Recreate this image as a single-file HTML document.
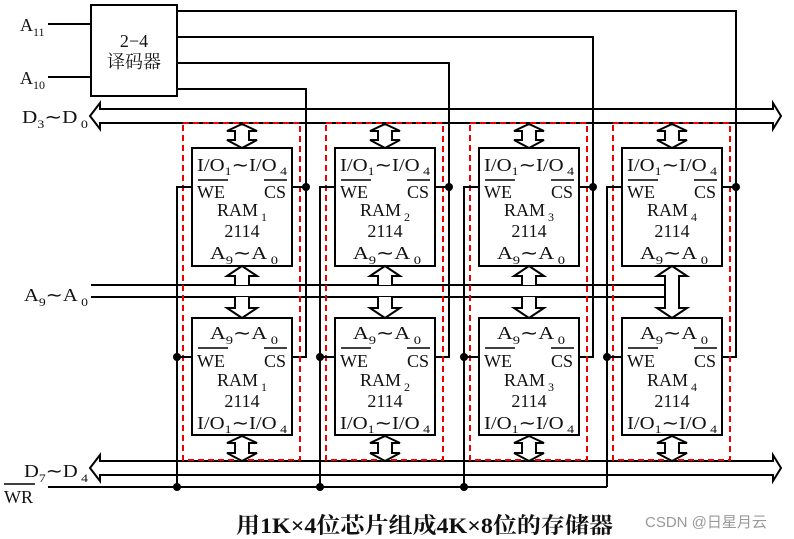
<!DOCTYPE html>
<html><head><meta charset="utf-8"><style>
html,body{margin:0;padding:0;background:#fff;width:794px;height:539px;overflow:hidden}
svg{display:block}
text{font-family:"Liberation Serif","Noto Serif CJK SC",serif;fill:#111}
.s{font-size:12px}
</style></head><body>
<svg width="794" height="539" viewBox="0 0 794 539" xmlns="http://www.w3.org/2000/svg">
<g stroke="#000" stroke-width="2" fill="none">
<rect x="91" y="5" width="86" height="91" fill="#fff"/>
<line x1="48" y1="24" x2="91" y2="24"/>
<line x1="48" y1="77" x2="91" y2="77"/>
<polyline points="177,11 736,11 736,357 722,357"/>
<polyline points="177,37 593,37 593,357 579,357"/>
<polyline points="177,63 449,63 449,357 435,357"/>
<polyline points="177,89 306,89 306,357 292,357"/>
<polygon points="90,116 100,103 100,109 773,109 773,103 781,116 773,129 773,123 100,123 100,129" fill="#fff"/>
<polygon points="90,468 100,455 100,461 773,461 773,455 781,468 773,481 773,475 100,475 100,481" fill="#fff"/>
<line x1="306" y1="105" x2="306" y2="127"/><line x1="449" y1="105" x2="449" y2="127"/>
<line x1="593" y1="105" x2="593" y2="127"/><line x1="736" y1="105" x2="736" y2="127"/>
<line x1="91" y1="285" x2="665" y2="285"/>
<line x1="91" y1="297" x2="665" y2="297"/>
<line x1="48" y1="487" x2="607" y2="487"/>
<line x1="4" y1="484" x2="35" y2="484" stroke-width="1.5"/>
</g>
<g fill="#000">
<circle cx="177" cy="487" r="4"/><circle cx="320" cy="487" r="4"/><circle cx="464" cy="487" r="4"/>
</g>
<text x="134" y="47" font-size="18" text-anchor="middle">2−4</text>
<text x="134" y="68" font-size="18" text-anchor="middle">译码器</text>
<text x="20" y="31" font-size="18">A<tspan class="s" dy="5">11</tspan></text>
<text x="20" y="84" font-size="18">A<tspan class="s" dy="5">10</tspan></text>
<text x="22" y="123" font-size="18" textLength="66" lengthAdjust="spacingAndGlyphs">D<tspan class="s" dy="5">3</tspan><tspan dy="-5">∼D</tspan><tspan class="s" dy="5"> 0</tspan></text>
<text x="24" y="301" font-size="18" textLength="64" lengthAdjust="spacingAndGlyphs">A<tspan class="s" dy="5">9</tspan><tspan dy="-5">∼A</tspan><tspan class="s" dy="5"> 0</tspan></text>
<text x="24" y="477" font-size="18" textLength="64" lengthAdjust="spacingAndGlyphs">D<tspan class="s" dy="5">7</tspan><tspan dy="-5">∼D</tspan><tspan class="s" dy="5"> 4</tspan></text>
<text x="4" y="503" font-size="18">WR</text>

<g id="c1">
<rect x="183" y="123" width="117" height="337" fill="none" stroke="#e00" stroke-width="2" stroke-dasharray="6,4"/>
<g stroke="#000" stroke-width="2" fill="#fff">
<rect x="192" y="148" width="100" height="118"/>
<rect x="192" y="318" width="100" height="117"/>
<polygon points="242,124 257,131 249,131 249,140 257,140 242,148 227,140 235,140 235,131 227,131"/>
<polygon points="242,436 257,443 249,443 249,453 257,453 242,461 227,453 235,453 235,443 227,443"/>
<polyline points="235,285 235,276 227,276 242,266 257,276 249,276 249,285"/>
<polyline points="235,297 235,308 227,308 242,318 257,308 249,308 249,297"/>
<polyline points="192,187 177,187 177,487" fill="none"/>
<line x1="192" y1="357" x2="177" y2="357"/>
<line x1="292" y1="187" x2="306" y2="187"/>
<line x1="198" y1="180" x2="228" y2="180" stroke-width="1.5"/><line x1="264" y1="180" x2="287" y2="180" stroke-width="1.5"/>
<line x1="198" y1="348" x2="228" y2="348" stroke-width="1.5"/><line x1="264" y1="348" x2="287" y2="348" stroke-width="1.5"/>
</g>
<circle cx="306" cy="187" r="4"/><circle cx="177" cy="357" r="4"/>
<g font-size="18">
<text x="197" y="171" textLength="90" lengthAdjust="spacingAndGlyphs">I/O<tspan class="s" dy="4">1</tspan><tspan dy="-4">∼I/O</tspan><tspan class="s" dy="4"> 4</tspan></text>
<text x="197" y="198">WE</text><text x="264" y="198">CS</text>
<text x="242" y="216" text-anchor="middle">RAM<tspan class="s" dy="5"> 1</tspan></text>
<text x="242" y="237" text-anchor="middle">2114</text>
<text x="210" y="259" textLength="68" lengthAdjust="spacingAndGlyphs">A<tspan class="s" dy="5">9</tspan><tspan dy="-5">∼A</tspan><tspan class="s" dy="5"> 0</tspan></text>
<text x="210" y="339" textLength="68" lengthAdjust="spacingAndGlyphs">A<tspan class="s" dy="5">9</tspan><tspan dy="-5">∼A</tspan><tspan class="s" dy="5"> 0</tspan></text>
<text x="197" y="367">WE</text><text x="264" y="367">CS</text>
<text x="242" y="386" text-anchor="middle">RAM<tspan class="s" dy="5"> 1</tspan></text>
<text x="242" y="407" text-anchor="middle">2114</text>
<text x="197" y="429" textLength="90" lengthAdjust="spacingAndGlyphs">I/O<tspan class="s" dy="4">1</tspan><tspan dy="-4">∼I/O</tspan><tspan class="s" dy="4"> 4</tspan></text>
</g>
</g>

<g transform="translate(143,0)">
<rect x="183" y="123" width="117" height="337" fill="none" stroke="#e00" stroke-width="2" stroke-dasharray="6,4"/>
<g stroke="#000" stroke-width="2" fill="#fff">
<rect x="192" y="148" width="100" height="118"/>
<rect x="192" y="318" width="100" height="117"/>
<polygon points="242,124 257,131 249,131 249,140 257,140 242,148 227,140 235,140 235,131 227,131"/>
<polygon points="242,436 257,443 249,443 249,453 257,453 242,461 227,453 235,453 235,443 227,443"/>
<polyline points="235,285 235,276 227,276 242,266 257,276 249,276 249,285"/>
<polyline points="235,297 235,308 227,308 242,318 257,308 249,308 249,297"/>
<polyline points="192,187 177,187 177,487" fill="none"/>
<line x1="192" y1="357" x2="177" y2="357"/>
<line x1="292" y1="187" x2="306" y2="187"/>
<line x1="198" y1="180" x2="228" y2="180" stroke-width="1.5"/><line x1="264" y1="180" x2="287" y2="180" stroke-width="1.5"/>
<line x1="198" y1="348" x2="228" y2="348" stroke-width="1.5"/><line x1="264" y1="348" x2="287" y2="348" stroke-width="1.5"/>
</g>
<circle cx="306" cy="187" r="4"/><circle cx="177" cy="357" r="4"/>
<g font-size="18">
<text x="197" y="171" textLength="90" lengthAdjust="spacingAndGlyphs">I/O<tspan class="s" dy="4">1</tspan><tspan dy="-4">∼I/O</tspan><tspan class="s" dy="4"> 4</tspan></text>
<text x="197" y="198">WE</text><text x="264" y="198">CS</text>
<text x="242" y="216" text-anchor="middle">RAM<tspan class="s" dy="5"> 2</tspan></text>
<text x="242" y="237" text-anchor="middle">2114</text>
<text x="210" y="259" textLength="68" lengthAdjust="spacingAndGlyphs">A<tspan class="s" dy="5">9</tspan><tspan dy="-5">∼A</tspan><tspan class="s" dy="5"> 0</tspan></text>
<text x="210" y="339" textLength="68" lengthAdjust="spacingAndGlyphs">A<tspan class="s" dy="5">9</tspan><tspan dy="-5">∼A</tspan><tspan class="s" dy="5"> 0</tspan></text>
<text x="197" y="367">WE</text><text x="264" y="367">CS</text>
<text x="242" y="386" text-anchor="middle">RAM<tspan class="s" dy="5"> 2</tspan></text>
<text x="242" y="407" text-anchor="middle">2114</text>
<text x="197" y="429" textLength="90" lengthAdjust="spacingAndGlyphs">I/O<tspan class="s" dy="4">1</tspan><tspan dy="-4">∼I/O</tspan><tspan class="s" dy="4"> 4</tspan></text>
</g>
</g>

<g transform="translate(287,0)">
<rect x="183" y="123" width="117" height="337" fill="none" stroke="#e00" stroke-width="2" stroke-dasharray="6,4"/>
<g stroke="#000" stroke-width="2" fill="#fff">
<rect x="192" y="148" width="100" height="118"/>
<rect x="192" y="318" width="100" height="117"/>
<polygon points="242,124 257,131 249,131 249,140 257,140 242,148 227,140 235,140 235,131 227,131"/>
<polygon points="242,436 257,443 249,443 249,453 257,453 242,461 227,453 235,453 235,443 227,443"/>
<polyline points="235,285 235,276 227,276 242,266 257,276 249,276 249,285"/>
<polyline points="235,297 235,308 227,308 242,318 257,308 249,308 249,297"/>
<polyline points="192,187 177,187 177,487" fill="none"/>
<line x1="192" y1="357" x2="177" y2="357"/>
<line x1="292" y1="187" x2="306" y2="187"/>
<line x1="198" y1="180" x2="228" y2="180" stroke-width="1.5"/><line x1="264" y1="180" x2="287" y2="180" stroke-width="1.5"/>
<line x1="198" y1="348" x2="228" y2="348" stroke-width="1.5"/><line x1="264" y1="348" x2="287" y2="348" stroke-width="1.5"/>
</g>
<circle cx="306" cy="187" r="4"/><circle cx="177" cy="357" r="4"/>
<g font-size="18">
<text x="197" y="171" textLength="90" lengthAdjust="spacingAndGlyphs">I/O<tspan class="s" dy="4">1</tspan><tspan dy="-4">∼I/O</tspan><tspan class="s" dy="4"> 4</tspan></text>
<text x="197" y="198">WE</text><text x="264" y="198">CS</text>
<text x="242" y="216" text-anchor="middle">RAM<tspan class="s" dy="5"> 3</tspan></text>
<text x="242" y="237" text-anchor="middle">2114</text>
<text x="210" y="259" textLength="68" lengthAdjust="spacingAndGlyphs">A<tspan class="s" dy="5">9</tspan><tspan dy="-5">∼A</tspan><tspan class="s" dy="5"> 0</tspan></text>
<text x="210" y="339" textLength="68" lengthAdjust="spacingAndGlyphs">A<tspan class="s" dy="5">9</tspan><tspan dy="-5">∼A</tspan><tspan class="s" dy="5"> 0</tspan></text>
<text x="197" y="367">WE</text><text x="264" y="367">CS</text>
<text x="242" y="386" text-anchor="middle">RAM<tspan class="s" dy="5"> 3</tspan></text>
<text x="242" y="407" text-anchor="middle">2114</text>
<text x="197" y="429" textLength="90" lengthAdjust="spacingAndGlyphs">I/O<tspan class="s" dy="4">1</tspan><tspan dy="-4">∼I/O</tspan><tspan class="s" dy="4"> 4</tspan></text>
</g>
</g>

<g transform="translate(430,0)">
<rect x="183" y="123" width="117" height="337" fill="none" stroke="#e00" stroke-width="2" stroke-dasharray="6,4"/>
<g stroke="#000" stroke-width="2" fill="#fff">
<rect x="192" y="148" width="100" height="118"/>
<rect x="192" y="318" width="100" height="117"/>
<polygon points="242,124 257,131 249,131 249,140 257,140 242,148 227,140 235,140 235,131 227,131"/>
<polygon points="242,436 257,443 249,443 249,453 257,453 242,461 227,453 235,453 235,443 227,443"/>
<polygon points="242,266 257,276 249,276 249,308 257,308 242,318 227,308 235,308 235,276 227,276"/>
<polyline points="192,187 177,187 177,487" fill="none"/>
<line x1="192" y1="357" x2="177" y2="357"/>
<line x1="292" y1="187" x2="306" y2="187"/>
<line x1="198" y1="180" x2="228" y2="180" stroke-width="1.5"/><line x1="264" y1="180" x2="287" y2="180" stroke-width="1.5"/>
<line x1="198" y1="348" x2="228" y2="348" stroke-width="1.5"/><line x1="264" y1="348" x2="287" y2="348" stroke-width="1.5"/>
</g>
<circle cx="306" cy="187" r="4"/><circle cx="177" cy="357" r="4"/>
<g font-size="18">
<text x="197" y="171" textLength="90" lengthAdjust="spacingAndGlyphs">I/O<tspan class="s" dy="4">1</tspan><tspan dy="-4">∼I/O</tspan><tspan class="s" dy="4"> 4</tspan></text>
<text x="197" y="198">WE</text><text x="264" y="198">CS</text>
<text x="242" y="216" text-anchor="middle">RAM<tspan class="s" dy="5"> 4</tspan></text>
<text x="242" y="237" text-anchor="middle">2114</text>
<text x="210" y="259" textLength="68" lengthAdjust="spacingAndGlyphs">A<tspan class="s" dy="5">9</tspan><tspan dy="-5">∼A</tspan><tspan class="s" dy="5"> 0</tspan></text>
<text x="210" y="339" textLength="68" lengthAdjust="spacingAndGlyphs">A<tspan class="s" dy="5">9</tspan><tspan dy="-5">∼A</tspan><tspan class="s" dy="5"> 0</tspan></text>
<text x="197" y="367">WE</text><text x="264" y="367">CS</text>
<text x="242" y="386" text-anchor="middle">RAM<tspan class="s" dy="5"> 4</tspan></text>
<text x="242" y="407" text-anchor="middle">2114</text>
<text x="197" y="429" textLength="90" lengthAdjust="spacingAndGlyphs">I/O<tspan class="s" dy="4">1</tspan><tspan dy="-4">∼I/O</tspan><tspan class="s" dy="4"> 4</tspan></text>
</g>
</g>

<text x="236" y="533" font-size="22" font-weight="bold" textLength="377" lengthAdjust="spacingAndGlyphs">用1K×4位芯片组成4K×8位的存储器</text>
<text x="645" y="527" font-size="15" style="font-family:'Liberation Sans','Noto Sans CJK SC',sans-serif;fill:#999">CSDN @日星月云</text>
</svg>
</body></html>
